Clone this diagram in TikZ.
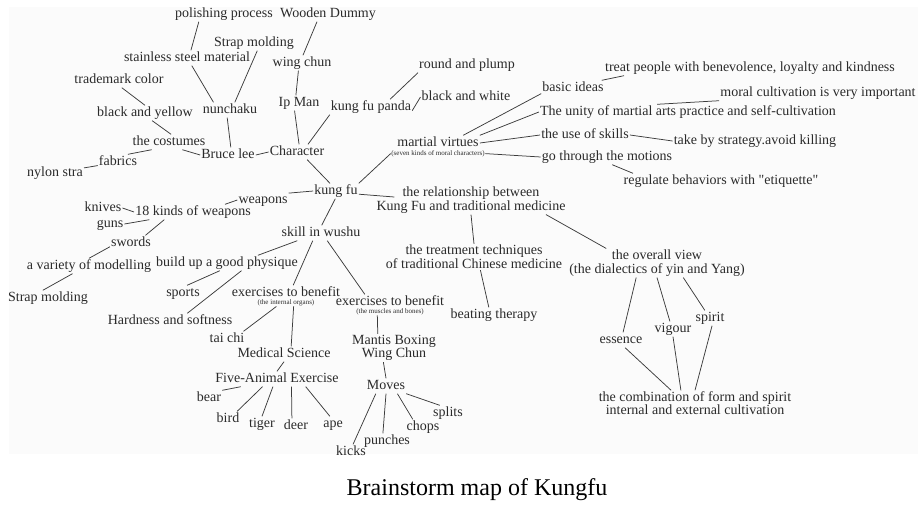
\documentclass[tikz,border=0pt]{standalone}
\usepackage{fontspec}
\setmainfont{Liberation Serif}
\usepackage{tikz}
\usetikzlibrary{positioning}
\definecolor{mapink}{HTML}{2A2A2A}
\definecolor{mapline}{HTML}{3C3C3C}
\definecolor{mapbg}{HTML}{FBFBFB}

\begin{document}
\begin{tikzpicture}[x=1pt, y=-1pt,
  idea/.style={font=\fontsize{14}{14}\selectfont, text=mapink, inner sep=1pt, text height=10pt, text depth=3pt},
  idea2/.style={font=\fontsize{14}{14}\selectfont, text=mapink, inner sep=1pt, align=center},
  note/.style={font=\fontsize{7}{7}\selectfont, text=mapink, inner sep=0.5pt},
  link/.style={draw=mapline, line width=0.75pt},
]
\useasboundingbox (0,0) rectangle (921,504);
\fill[mapbg] (9,7) rectangle (918,454);

% Character branch
\node[idea] (pp)  at (224,14)  {polishing process};
\node[idea] (wd)  at (328,14)  {Wooden Dummy};
\node[idea] (sm1) at (254,43)  {Strap molding};
\node[idea] (ssm) at (187,58)  {stainless steel material};
\node[idea] (wc)  at (302,63)  {wing chun};
\node[idea] (tc)  at (119,80)  {trademark color};
\node[idea] (bay) at (145,113) {black and yellow};
\node[idea] (nun) at (230,110) {nunchaku};
\node[idea] (ipm) at (299,103) {Ip Man};
\node[idea] (cos) at (169,142) {the costumes};
\node[idea] (bl)  at (228,155) {Bruce lee};
\node[idea] (chr) at (297,152) {Character};
\node[idea] (fab) at (118,162) {fabrics};
\node[idea] (nyl) at (55,173)  {nylon stra};
\node[idea] (rap) at (467,65)  {round and plump};
\node[idea] (baw) at (466,97)  {black and white};
\node[idea] (kfp) at (371,107) {kung fu panda};

% martial virtues branch
\node[idea] (mv)  at (438,143) {martial virtues};
\node[note, below=-1pt of mv] (mvs) {(seven kinds of moral characters)};
\node[idea] (bi)    at (573,88)  {basic ideas};
\node[idea] (unity) at (688,112) {The unity of martial arts practice and self-cultivation};
\node[idea] (uos)   at (585,135) {the use of skills};
\node[idea] (gtm)   at (607,157) {go through the motions};
\node[idea] (treat) at (750,68)  {treat people with benevolence, loyalty and kindness};
\node[idea] (moral) at (818,93)  {moral cultivation is very important};
\node[idea] (tbs)   at (755,141) {take by strategy.avoid killing};
\node[idea] (reg)   at (721,181) {regulate behaviors with \textquotedbl etiquette\textquotedbl};

% centre, weapons and wushu
\node[idea] (kf)  at (336,191) {kung fu};
\node[idea] (wea) at (263,200) {weapons};
\node[idea] (kni) at (103,208) {knives};
\node[idea] (k18) at (193,212) {18 kinds of weapons};
\node[idea] (gun) at (110,224) {guns};
\node[idea] (swo) at (131,243) {swords};
\node[idea] (vom) at (89,266)  {a variety of modelling};
\node[idea] (sm2) at (48,298)  {Strap molding};
\node[idea] (siw) at (321,233) {skill in wushu};
\node[idea] (bgp) at (227,263) {build up a good physique};
\node[idea] (spo) at (183,293) {sports};
\node[idea] (hs)  at (170,321) {Hardness and softness};
\node[idea] (ex1) at (286,293) {exercises to benefit};
\node[note, below=-2pt of ex1] (ex1s) {(the internal organs)};
\node[idea] (ex2) at (390,302) {exercises to benefit};
\node[note, below=-2pt of ex2] (ex2s) {(the muscles and bones)};
\node[idea] (tai) at (227,339) {tai chi};
\node[idea] (ms)  at (284,354) {Medical Science};
\node[idea] (fae) at (277,379) {Five-Animal Exercise};
\node[idea] (bear)  at (209,398) {bear};
\node[idea] (bird)  at (228,419) {bird};
\node[idea] (tiger) at (262,424) {tiger};
\node[idea] (deer)  at (296,426) {deer};
\node[idea] (ape)   at (333,424) {ape};
\node[idea2] (mwc) at (394,348) {Mantis Boxing\\[-0.5pt]Wing Chun};
\node[idea] (mov)  at (386,386) {Moves};
\node[idea] (splits)  at (448,413) {splits};
\node[idea] (chops)   at (423,427) {chops};
\node[idea] (punches) at (387,441) {punches};
\node[idea] (kicks)   at (351,452) {kicks};

% medicine branch
\node[idea2] (rel)  at (471,200) {the relationship between\\Kung Fu and traditional medicine};
\node[idea2] (trt)  at (474,257) {the treatment techniques\\of traditional Chinese medicine};
\node[idea]  (bt)   at (494,315) {beating therapy};
\node[idea2] (ov)   at (657,263) {the overall view\\(the dialectics of yin and Yang)};
\node[idea]  (spi)  at (710,318) {spirit};
\node[idea]  (vig)  at (673,329) {vigour};
\node[idea]  (ess)  at (621,340) {essence};
\node[idea2] (comb) at (695,403) {the combination of form and spirit\\[-1pt]internal and external cultivation};

\node[font=\fontsize{24}{24}\selectfont, text=black] (title) at (477,490) {Brainstorm map of Kungfu};

% links
\draw[link] (pp.197) -- (ssm.63);
\draw[link] (wd.215) -- (wc.83);
\draw[link] (sm1.293) -- (nun.58);
\draw[link] (ssm.302) -- (nun.155);
\draw[link] (wc.245) -- (ipm.112);
\draw[link] (tc.290) -- (bay.north);
\draw[link] (bay.313) -- (cos.75);
\draw[link] (nun.250) -- (bl.70);
\draw[link] (ipm.240) -- (chr.75);
\draw[link] (kfp.south west) -- (chr.35);
\draw[link] (cos.330) -- (bl.west);
\draw[link] (bl.east) -- (chr.west);
\draw[link] (cos.204) -- (fab.38);
\draw[link] (fab.190) -- (nyl.10);
\draw[link] (chr.323) -- (kf.128);
\draw[link] (rap.south west) -- (kfp.22);
\draw[link] (kfp.355) -- (baw.west);

\draw[link] (mvs.west) -- (kf.north east);
\draw[link] (bi.190) -- (mv.17);
\draw[link] (unity.west) -- (mv.north east);
\draw[link] (uos.west) -- (mv.east);
\draw[link] (mvs.east) -- (gtm.west);
\draw[link] ([xshift=20pt]treat.south west) -- (bi.15);
\draw[link] (moral.south west) -- (unity.166);
\draw[link] (uos.east) -- (tbs.west);
\draw[link] (gtm.304) -- (reg.175);

\draw[link] (kf.west) -- (wea.15);
\draw[link] (wea.west) -- ([xshift=32pt]k18.north);
\draw[link] (kni.east) -- (k18.west);
\draw[link] (gun.east) -- (k18.190);
\draw[link] (k18.195) -- (swo.28);
\draw[link] (swo.190) -- (vom.north);
\draw[link] (vom.205) -- (sm2.124);
\draw[link] (kf.265) -- (siw.85);
\draw[link] (siw.198) -- (bgp.14);
\draw[link] (bgp.227) -- (spo.62);
\draw[link] (bgp.332) -- (hs.24);
\draw[link] (siw.223) -- (ex1.47);
\draw[link] (siw.309) -- (ex2.163);
\draw[link] (ex1s.202) -- (tai.25);
\draw[link] (ex1s.333) -- (ms.47);
\draw[link] (ms.south) -- (fae.north);
\draw[link] (fae.192) -- (bear.north east);
\draw[link] (fae.208) -- (bird.40);
\draw[link] (fae.242) -- (tiger.north);
\draw[link] (fae.332) -- (deer.118);
\draw[link] (fae.345) -- (ape.112);
\draw[link] (ex2s.197) -- (mwc.139);
\draw[link] (mwc.233) -- (mov.north);
\draw[link] (mov.217) -- (kicks.75);
\draw[link] (mov.south) -- (punches.118);
\draw[link] (mov.326) -- (chops.143);
\draw[link] (mov.south east) -- (splits.137);

\draw[link] (kf.352) -- ([xshift=19pt,yshift=3pt]rel.west);
\draw[link] (rel.south) -- (trt.north);
\draw[link] (rel.349) -- (ov.164);
\draw[link] (trt.296) -- (bt.124);
\draw[link] (ov.215) -- (ess.75);
\draw[link] (ov.south) -- (vig.112);
\draw[link] (ov.331) -- (spi.124);
\draw[link] (ess.298) -- (comb.152);
\draw[link] (vig.south) -- (comb.138);
\draw[link] (spi.285) -- (comb.north);
\end{tikzpicture}
\end{document}
